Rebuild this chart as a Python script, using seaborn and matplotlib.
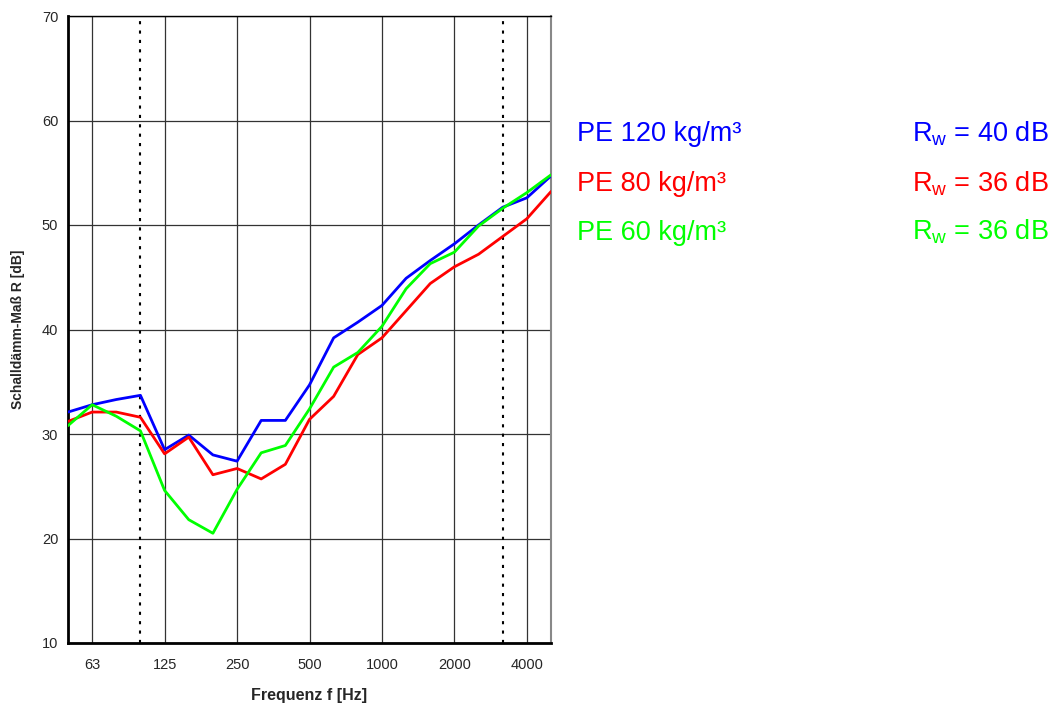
import pandas as pd
import seaborn as sns
import matplotlib.pyplot as plt

# third-octave bands 50 Hz .. 5000 Hz
bands = [50, 63, 80, 100, 125, 160, 200, 250, 315, 400, 500, 630, 800,
         1000, 1250, 1600, 2000, 2500, 3150, 4000, 5000]
octave_labels = ['63', '125', '250', '500', '1000', '2000', '4000']

pe120 = [32.1, 32.8, 33.3, 33.7, 28.5, 29.9, 28.0, 27.4, 31.3, 31.3, 34.7,
         39.2, 40.7, 42.3, 44.9, 46.6, 48.2, 50.0, 51.7, 52.6, 54.7]
pe80 = [31.2, 32.1, 32.1, 31.6, 28.1, 29.7, 26.1, 26.7, 25.7, 27.1, 31.4,
        33.6, 37.6, 39.2, 41.8, 44.4, 46.0, 47.2, 48.9, 50.6, 53.2]
pe60 = [30.8, 32.8, 31.7, 30.3, 24.6, 21.8, 20.5, 24.7, 28.2, 28.9, 32.4,
        36.4, 37.8, 40.3, 43.9, 46.3, 47.4, 49.9, 51.6, 53.1, 54.8]

names = ['PE 120 kg/m³', 'PE 80 kg/m³', 'PE 60 kg/m³']
rw = [40, 36, 36]
colors = ['#0000ff', '#ff0000', '#00ff00']

sns.set_style("white")
plt.rcParams['font.family'] = ['Liberation Sans', 'DejaVu Sans']

idx = list(range(len(bands)))
df = pd.DataFrame({
    'band': idx * 3,
    'R': pe120 + pe80 + pe60,
    'material': [names[0]] * len(idx) + [names[1]] * len(idx) + [names[2]] * len(idx),
})

fig = plt.figure(figsize=(10.57, 7.04), dpi=100)
ax = fig.add_axes([68 / 1057, 1 - 643 / 704, (551 - 68) / 1057, (643 - 16) / 704])

sns.lineplot(data=df, x='band', y='R', hue='material', hue_order=names,
             palette=colors, linewidth=2, legend=False, ax=ax, zorder=3)

ax.set_xlim(0, len(bands) - 1)
ax.set_ylim(10, 70)
ax.set_yticks(range(10, 71, 10))

oct_pos = [bands.index(int(l)) for l in octave_labels]
ax.set_xticks(oct_pos)
ax.set_xticklabels(octave_labels)
ax.set_xticks(idx, minor=True)

ax.grid(True, which='major', color='#333333', linewidth=0.9)
ax.axvline(bands.index(100), color='black', linestyle=(0, (1.5, 3)), linewidth=1.5, zorder=2)
ax.axvline(bands.index(3150), color='black', linestyle=(0, (1.5, 3)), linewidth=1.5, zorder=2)

ax.tick_params(axis='x', which='both', direction='inout', length=8, width=1,
               labelsize=10.5, pad=7, color='#444444')
ax.tick_params(axis='y', direction='out', length=5, width=1, labelsize=10.5, pad=2,
               color='#444444')

for side in ['left', 'bottom']:
    ax.spines[side].set_color('black')
    ax.spines[side].set_linewidth(2)
ax.spines['top'].set_color('black')
ax.spines['top'].set_linewidth(1)
ax.spines['right'].set_color('#888888')
ax.spines['right'].set_linewidth(1.5)

ax.set_xlabel('Frequenz f [Hz]', fontsize=11.5, fontweight='bold', labelpad=11)
ax.set_ylabel('Schalldämm-Maß R [dB]', fontsize=10, fontweight='bold', labelpad=12)

base_y = [141, 191, 240]
for name, r, c, by in zip(names, rw, colors, base_y):
    fig.text(577 / 1057, 1 - by / 704, name, color=c, fontsize=19.5, va='baseline')
    fig.text(1049 / 1057, 1 - by / 704, 'R$_\\mathregular{w}$ = %d dB' % r,
             color=c, fontsize=19.5, va='baseline', ha='right')

fig.savefig('out.png', dpi=100)
